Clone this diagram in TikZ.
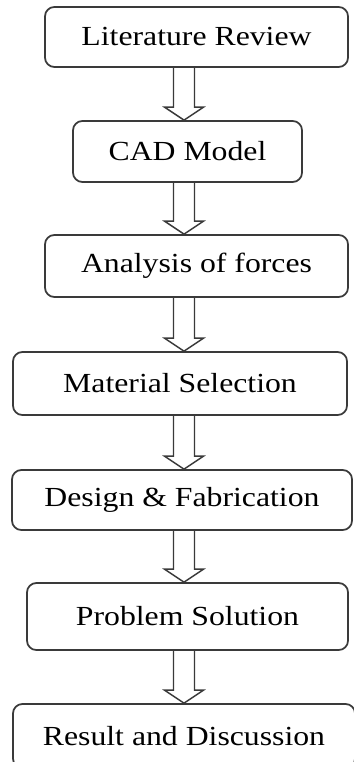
\documentclass[tikz,border=0pt]{standalone}
\usepackage{fontspec}
\setmainfont{Liberation Serif}[FakeStretch=1.15]
\usetikzlibrary{calc}
\usepackage{xcolor}
\definecolor{boxline}{HTML}{3A3A3A}

\begin{document}
\begin{tikzpicture}[
      x=0.75pt,y=-0.75pt,
      stage/.style={draw=boxline,line width=1.3pt,rounded corners=7pt,fill=white,align=center,inner sep=0pt,font=\fontsize{20.7}{24}\selectfont},
      hollow/.style={draw=boxline,line width=1.1pt,line join=miter}
    ]
      \useasboundingbox (0,0) rectangle (353,762);
      \coordinate (ax) at (184,0);
      \node[stage,minimum width=227.25pt,minimum height=45pt] (review) at (196.5,37) {Literature Review};
      \node[stage,minimum width=171.75pt,minimum height=45.75pt] (cad) at (187.5,151.5) {CAD Model};
      \node[stage,minimum width=227.25pt,minimum height=46.5pt] (forces) at (196.5,266) {Analysis of forces};
      \node[stage,minimum width=250.5pt,minimum height=47.25pt] (material) at (180,383.5) {Material Selection};
      \node[stage,minimum width=255pt,minimum height=45pt] (design) at (182,500) {Design \& Fabrication};
      \node[stage,minimum width=240.75pt,minimum height=50.25pt] (problem) at (187.5,616.5) {Problem Solution};
      \node[stage,minimum width=256.5pt,minimum height=48pt] (result) at (184,736) {Result and Discussion};
      % hollow arrows between the stages
      \foreach \a/\b in {review/cad,cad/forces,forces/material,material/design,design/problem,problem/result}{
        \draw[hollow] ($(\a.south -| ax)+(-10.5,0)$) -- ($(\b.north -| ax)+(-10.5,-13)$) -- ++(-9,0)
          -- (\b.north -| ax) -- ($(\b.north -| ax)+(19.5,-13)$) -- ++(-9,0) -- ($(\a.south -| ax)+(10.5,0)$);
      }
    \end{tikzpicture}
\end{document}
